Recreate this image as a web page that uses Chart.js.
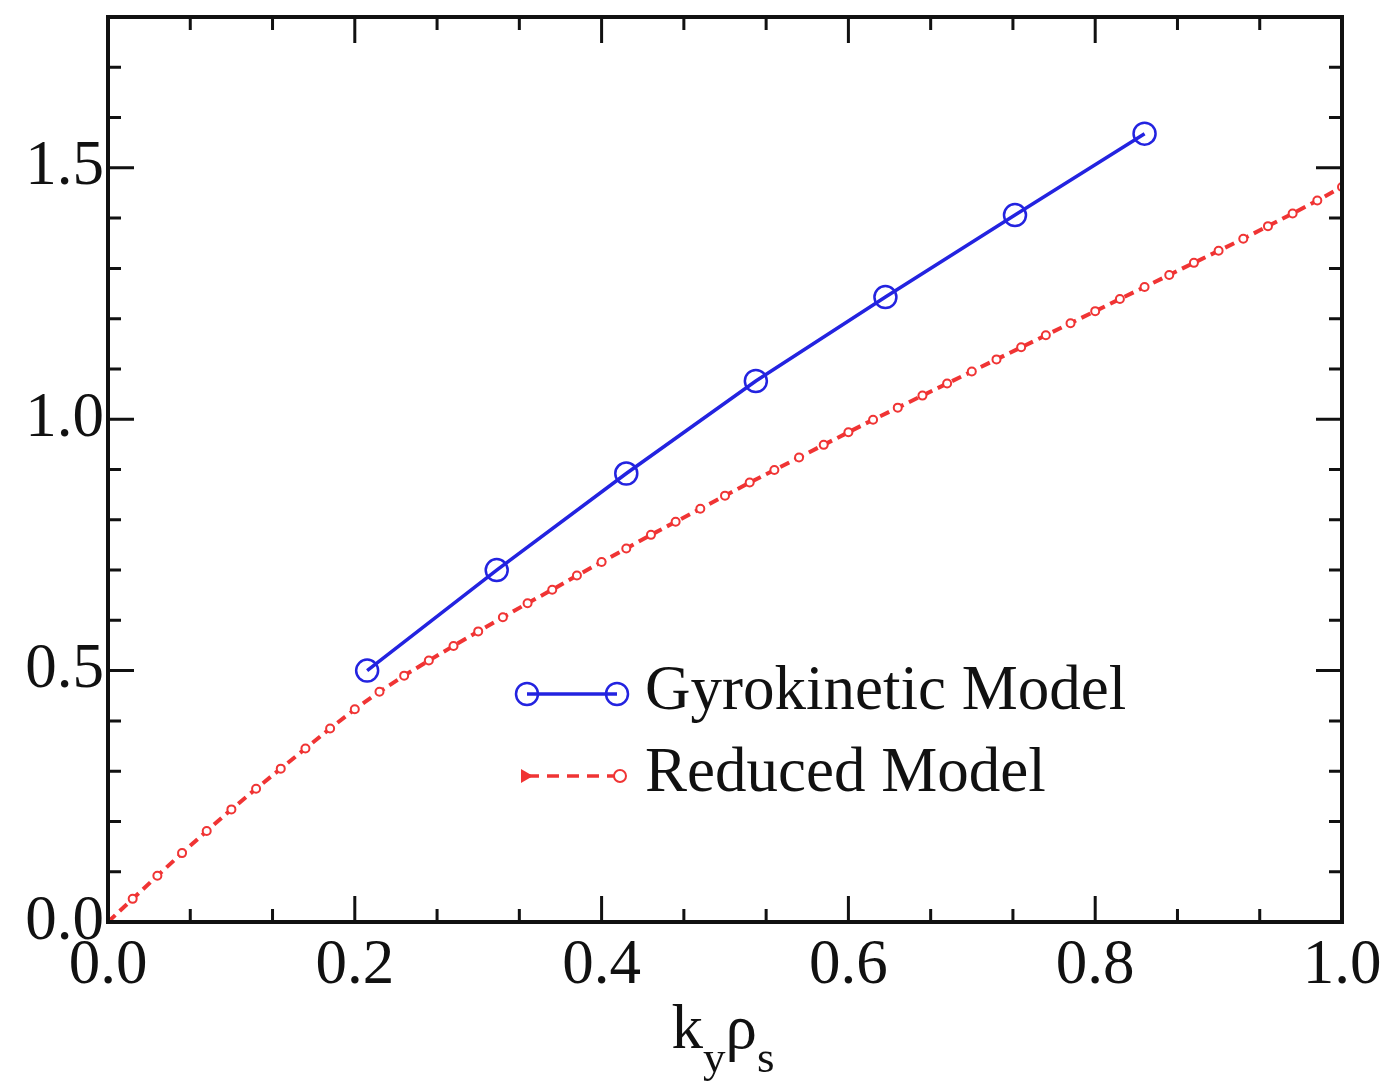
<!DOCTYPE html>
<html>
<head>
<meta charset="UTF-8">
<title>Gyrokinetic vs Reduced Model</title>
<script src="https://cdn.jsdelivr.net/npm/chart.js@4"></script>
<style>
  body { margin: 0; background: #fff; }
  #wrap { width: 1384px; height: 1087px; }
</style>
</head>
<body>
<div id="wrap"><canvas id="c" width="1384" height="1087"></canvas></div>
<script>
// datos
const gyroX = [0.21, 0.315, 0.42, 0.525, 0.63, 0.735, 0.84];
const gyroY = [0.50, 0.70, 0.892, 1.076, 1.243, 1.406, 1.568];

const reducedX = [0.00, 0.02, 0.04, 0.06, 0.08, 0.10, 0.12, 0.14, 0.16, 0.18,
                  0.20, 0.22, 0.24, 0.26, 0.28, 0.30, 0.32, 0.34, 0.36, 0.38,
                  0.40, 0.42, 0.44, 0.46, 0.48, 0.50, 0.52, 0.54, 0.56, 0.58,
                  0.60, 0.62, 0.64, 0.66, 0.68, 0.70, 0.72, 0.74, 0.76, 0.78,
                  0.80, 0.82, 0.84, 0.86, 0.88, 0.90, 0.92, 0.94, 0.96, 0.98, 1.00];
const reducedY = [0.000, 0.046, 0.092, 0.137, 0.181, 0.224, 0.265, 0.305, 0.345, 0.385,
                  0.423, 0.458, 0.490, 0.520, 0.549, 0.578, 0.606, 0.634, 0.661, 0.689,
                  0.716, 0.743, 0.770, 0.796, 0.822, 0.848, 0.874, 0.899, 0.924, 0.949,
                  0.974, 0.999, 1.023, 1.047, 1.071, 1.095, 1.119, 1.143, 1.167, 1.191,
                  1.215, 1.239, 1.263, 1.287, 1.311, 1.335, 1.359, 1.384, 1.409, 1.435, 1.462];

const xTicks = [0.0, 0.2, 0.4, 0.6, 0.8, 1.0];
const yTicks = [0.0, 0.5, 1.0, 1.5];
const labels = ['Gyrokinetic Model', 'Reduced Model'];

const FONT = '"Liberation Serif", "Times New Roman", serif';
const BLUE = '#2323e0';
const RED = '#f03434';

// marco, marcas hacia dentro, leyenda y título del eje x
const framePlugin = {
    id: 'frame',
    afterDraw(chart) {
        const ctx = chart.ctx;
        const xs = chart.scales.x, ys = chart.scales.y;
        const { left, right, top, bottom } = chart.chartArea;
        ctx.save();
        ctx.strokeStyle = '#111';
        ctx.lineWidth = 3;
        // marcas eje x (3 subdivisiones entre mayores)
        for (let i = 0; i <= 15; i++) {
            const px = xs.getPixelForValue(i / 15);
            const len = (i % 3 === 0) ? 26 : 13;
            ctx.beginPath();
            ctx.moveTo(px, bottom); ctx.lineTo(px, bottom - len);
            ctx.moveTo(px, top); ctx.lineTo(px, top + len);
            ctx.stroke();
        }
        // marcas eje y (cada 0.1)
        for (let i = 0; i <= 18; i++) {
            const py = ys.getPixelForValue(i / 10);
            const len = (i % 5 === 0) ? 26 : 13;
            ctx.beginPath();
            ctx.moveTo(left, py); ctx.lineTo(left + len, py);
            ctx.moveTo(right, py); ctx.lineTo(right - len, py);
            ctx.stroke();
        }
        ctx.lineWidth = 4;
        ctx.strokeRect(left, top, right - left, bottom - top);

        // leyenda
        const ds = chart.data.datasets;
        ctx.font = '63px ' + FONT;
        ctx.fillStyle = '#111';
        ctx.textBaseline = 'middle';
        ctx.textAlign = 'left';
        // Gyrokinetic
        let ly = 694;
        ctx.strokeStyle = ds[0].borderColor;
        ctx.lineWidth = 3.5;
        ctx.beginPath(); ctx.moveTo(527, ly); ctx.lineTo(617, ly); ctx.stroke();
        ctx.lineWidth = 2.5;
        [527, 617].forEach(cx => { ctx.beginPath(); ctx.arc(cx, ly, 11, 0, Math.PI * 2); ctx.stroke(); });
        ctx.fillText(ds[0].label, 645, ly - 2);
        // Reduced
        ly = 776;
        ctx.strokeStyle = ds[1].borderColor;
        ctx.lineWidth = 3.5;
        ctx.setLineDash([12, 8]);
        ctx.beginPath(); ctx.moveTo(527, ly); ctx.lineTo(615, ly); ctx.stroke();
        ctx.setLineDash([]);
        ctx.fillStyle = ds[1].borderColor;
        ctx.beginPath(); ctx.moveTo(521, ly - 7); ctx.lineTo(533, ly); ctx.lineTo(521, ly + 7); ctx.closePath(); ctx.fill();
        ctx.lineWidth = 2;
        ctx.beginPath(); ctx.arc(620, ly, 6, 0, Math.PI * 2); ctx.stroke();
        ctx.fillStyle = '#111';
        ctx.fillText(ds[1].label, 645, ly - 2);

        // título eje x: k_y rho_s
        const big = '63px ' + FONT, small = '45px ' + FONT;
        const parts = [['k', big, 0], ['y', small, 24], ['\u03c1', big, 0], ['s', small, 24]];
        let w = 0;
        parts.forEach(p => { ctx.font = p[1]; w += ctx.measureText(p[0]).width; });
        let tx = (left + right) / 2 - w / 2 - 2;
        const base = 1048;
        ctx.textBaseline = 'alphabetic';
        parts.forEach(p => {
            ctx.font = p[1];
            ctx.fillText(p[0], tx, base + p[2]);
            tx += ctx.measureText(p[0]).width;
        });
        ctx.restore();
    }
};

const ctx = document.getElementById('c').getContext('2d');
const chart = new Chart(ctx, {
    type: 'line',
    data: {
        datasets: [{
            label: labels[0],
            data: gyroX.map((x, i) => ({ x: x, y: gyroY[i] })),
            borderColor: BLUE,
            borderWidth: 3.5,
            pointRadius: 11,
            pointBorderWidth: 2.5,
            pointBackgroundColor: 'rgba(0,0,0,0)',
            pointBorderColor: BLUE,
            tension: 0,
            order: 0
        }, {
            label: labels[1],
            data: reducedX.map((x, i) => ({ x: x, y: reducedY[i] })),
            borderColor: RED,
            borderWidth: 4,
            borderDash: [10, 6],
            pointRadius: 4,
            pointBorderWidth: 2,
            pointBackgroundColor: '#fff',
            pointBorderColor: RED,
            tension: 0,
            order: 1
        }]
    },
    options: {
        responsive: false,
        animation: false,
        layout: { padding: { top: 17, right: 42, left: 0, bottom: 0 } },
        plugins: { legend: { display: false }, tooltip: { enabled: false } },
        scales: {
            x: {
                type: 'linear', min: 0, max: 1,
                grid: { display: false, drawTicks: false },
                border: { display: false },
                afterBuildTicks: s => { s.ticks = xTicks.map(v => ({ value: v })); },
                afterFit: s => { s.height = 165; s.paddingLeft = 0; s.paddingRight = 0; },
                ticks: {
                    padding: 7, color: '#111', maxRotation: 0,
                    font: { family: FONT, size: 63 },
                    callback: v => v.toFixed(1)
                }
            },
            y: {
                type: 'linear', min: 0, max: 1.8,
                grid: { display: false, drawTicks: false },
                border: { display: false },
                afterBuildTicks: s => { s.ticks = yTicks.map(v => ({ value: v })); },
                afterFit: s => { s.width = 108; s.paddingTop = 0; s.paddingBottom = 0; },
                ticks: {
                    padding: 4, color: '#111',
                    font: { family: FONT, size: 63 },
                    callback: v => v.toFixed(1)
                }
            }
        }
    },
    plugins: [framePlugin]
});
</script>
</body>
</html>
